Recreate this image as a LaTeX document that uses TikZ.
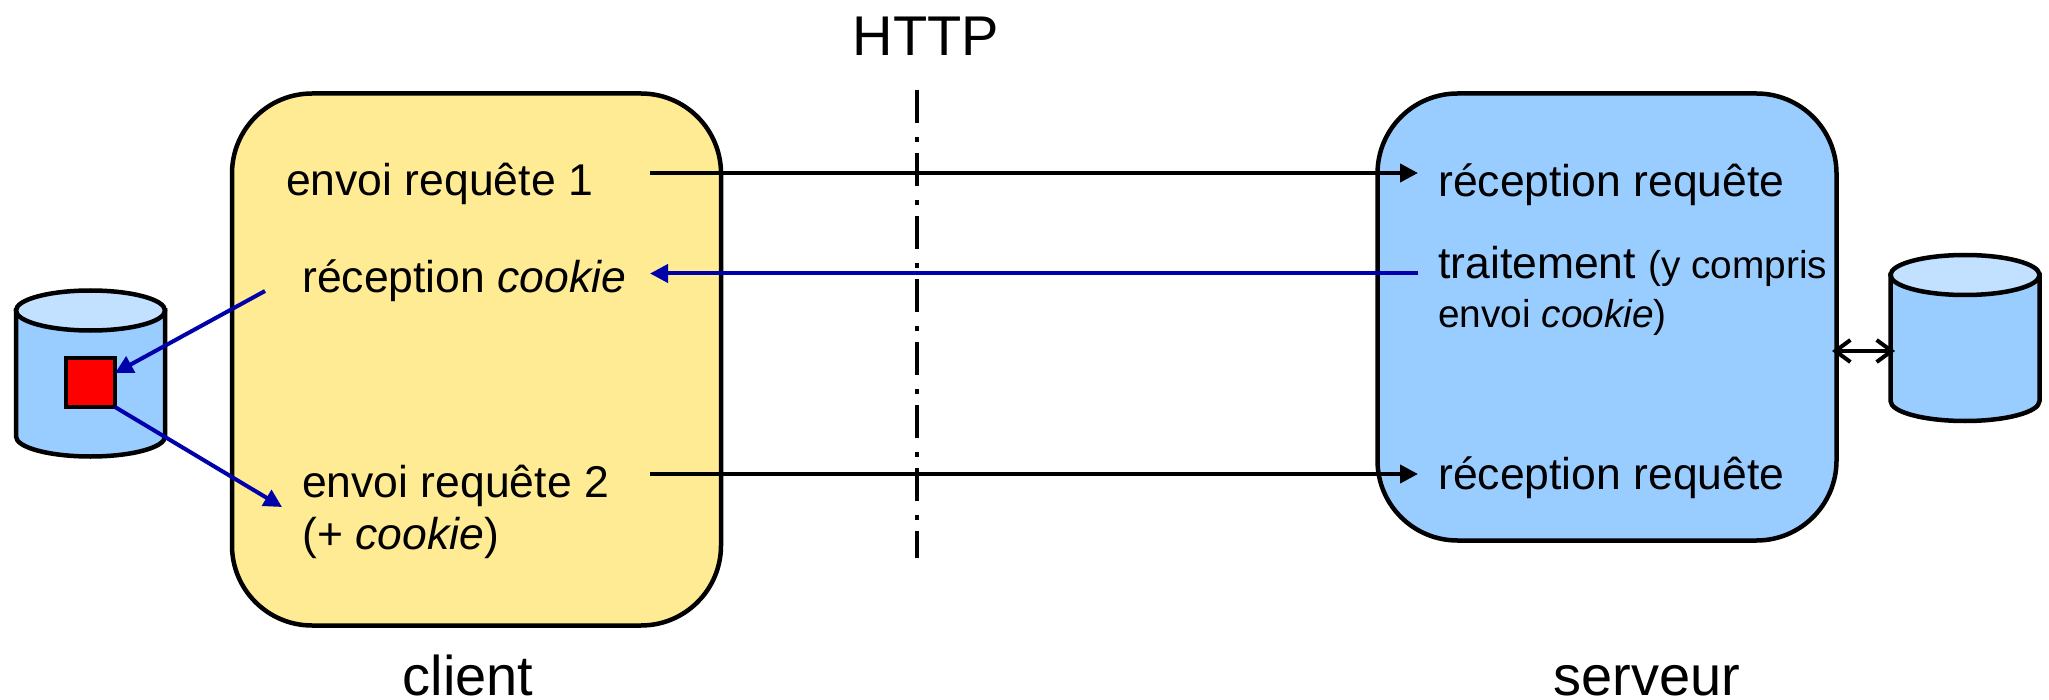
\documentclass[tikz,border=0pt]{standalone}
\usepackage{fontspec}
\setmainfont{Liberation Sans}
\usetikzlibrary{arrows.meta}

\definecolor{clientfill}{HTML}{FFEB94}
\definecolor{serverfill}{HTML}{99CCFF}
\definecolor{dbtop}{HTML}{C2E0FF}
\definecolor{flowblue}{HTML}{0000AA}

\tikzset{
  boxnode/.style={draw,line width=4.5pt,rounded corners=80pt,inner sep=0pt,outer sep=0pt},
  dbstore/.pic={
    \draw[line width=4.5pt,fill=serverfill] (-74.5,-63) -- (-74.5,63) arc[start angle=180,end angle=360,x radius=74.5pt,y radius=20pt] -- (74.5,-63) -- cycle;
    \draw[line width=4.5pt,fill=dbtop] (0,-63) ellipse[x radius=74.5pt,y radius=20pt];
  },
  txt/.style={anchor=base west,inner sep=0pt,font=\fontsize{44.5pt}{48pt}\selectfont},
  small/.style={anchor=base west,inner sep=0pt,font=\fontsize{38.8pt}{44pt}\selectfont},
  title/.style={anchor=base,inner sep=0pt,font=\fontsize{56pt}{60pt}\selectfont},
  flow/.style={-{Triangle[length=18pt,width=18pt]},line width=4pt},
}

\begin{document}
\begin{tikzpicture}[x=1pt,y=-1pt]
  \useasboundingbox (0,0) rectangle (2049,700);
  % boxes
  \node[boxnode,fill=clientfill,minimum width=489pt,minimum height=532pt] (client) at (476.5,359.5) {};
  \node[boxnode,fill=serverfill,minimum width=459pt,minimum height=447pt] (serveur) at (1607,317) {};
  % stores
  \pic at (90.5,373.5) {dbstore};
  \pic at (1965,338) {dbstore};
  \node[draw,line width=4.5pt,fill=red,minimum size=49pt,inner sep=0pt,outer sep=0pt] (cookie) at (90.5,382.5) {};
  % titles
  \node[title] (http) at (926,56) {HTTP};
  \node[title] (clientlabel) at (468,695) {client};
  \node[title] (serveurlabel) at (1647,695) {serveur};
  % client side
  \node[txt] (envoi1) at (286,196) {envoi requête 1};
  \node[txt] (recep) at (302,293) {réception \textit{cookie}};
  \node[txt] (envoi2) at (302,497) {envoi requête 2};
  \node[txt] (plus) at (302,549) {(+ \textit{cookie})};
  % server side
  \node[txt] (recep1) at (1438,197) {réception requête};
  \node[txt] (traite) at (1438,279) {traitement \fontsize{38.8pt}{44pt}\selectfont(y compris};
  \node[small] (envoic) at (1438,327) {envoi \textit{cookie})};
  \node[txt] (recep2) at (1438,489) {réception requête};
  % ends of the arrows
  \coordinate (a1) at (650,173);
  \coordinate (b1) at (1418,173);
  \coordinate (a2) at (650,273.5);
  \coordinate (b2) at (1418,273.5);
  \coordinate (a3) at (650,474);
  \coordinate (b3) at (1418,474);
  \coordinate (c1) at (265,291);
  \coordinate (c2) at (282,507);
  \coordinate (h1) at (917,90);
  \coordinate (h2) at (917,558);
  \coordinate (d0) at (1832,351);
  \coordinate (d1) at (1895,351);
  % arrows
  \draw[line width=4pt,dash pattern=on 33pt off 14pt on 5pt off 11pt] (h1) -- (h2);
  \draw[flow] (a1) -- (b1);
  \draw[flow,flowblue] (b2) -- (a2);
  \draw[flow] (a3) -- (b3);
  \draw[flow,flowblue] (c1) -- (cookie.21);
  \draw[flow,flowblue] (cookie.south east) -- (c2);
  \draw[{Straight Barb[length=15pt,width=22pt]}-{Straight Barb[length=15pt,width=22pt]},line width=4pt] (d0) -- (d1);
\end{tikzpicture}
\end{document}
